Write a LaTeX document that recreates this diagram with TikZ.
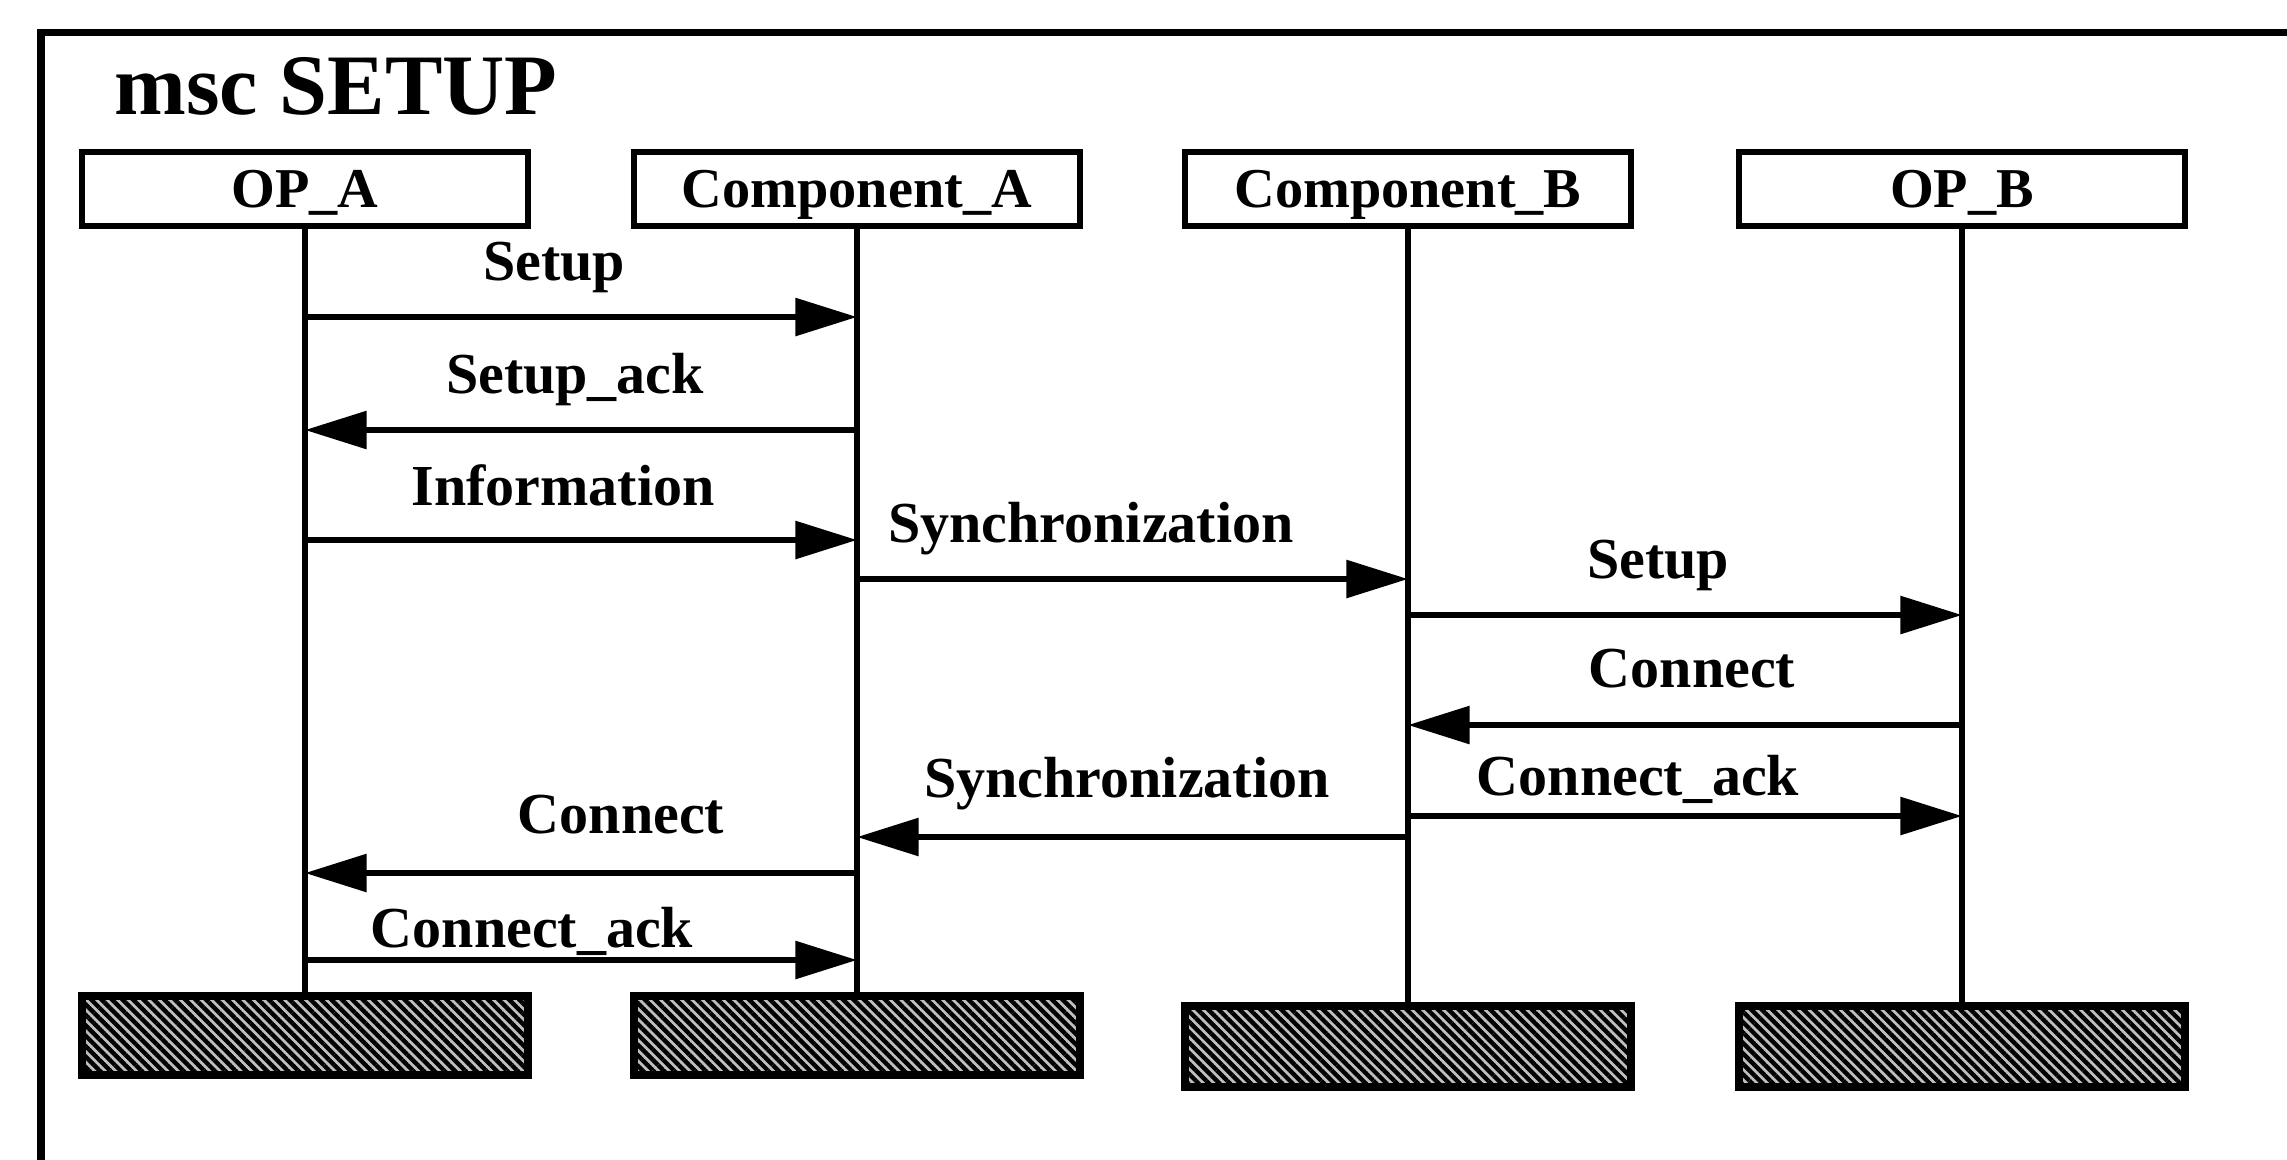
\documentclass[tikz,border=0pt]{standalone}
\usepackage{fontspec}
\setmainfont{Liberation Serif}
\usetikzlibrary{arrows.meta,patterns.meta}
\tikzdeclarepattern{
  name=mschatch,
  bounding box={(0pt,-0.7pt) and (2.1pt,0.7pt)},
  tile size={(2.1pt,2.1pt)},
  tile transformation={rotate=-45},
  code={\draw[line width=1.25pt] (0pt,0pt) -- (2.1pt,0pt);}
}
\begin{document}
\begin{tikzpicture}[x=0.01cm,y=-0.01cm,
  frameline/.style={line width=2pt},
  inst/.style={draw, line width=1.6pt, minimum width=4.46cm, minimum height=0.74cm,
    inner sep=0pt, text height=10.6pt, text depth=0pt,
    font=\fontsize{16}{19}\selectfont\bfseries},
  stopbox/.style={draw, line width=2.1pt, minimum width=4.46cm, inner sep=0pt,
    preaction={fill=gray!50}, pattern=mschatch},
  life/.style={line width=1.6pt},
  msg/.style={line width=1.7pt, -{Triangle[length=17.5pt,width=10.5pt]}},
  lbl/.style={font=\fontsize{16.5}{19}\selectfont\bfseries, inner sep=0pt, anchor=base},
  titlestyle/.style={font=\fontsize{24.5}{29}\selectfont\bfseries, inner sep=0pt, anchor=base west}
]
\useasboundingbox (0,0) rectangle (2287,1159);
\clip (0,0) rectangle (2287,1159);

% frame
\draw[frameline] (41,1175) -- (41,32) -- (2300,32);
\node[titlestyle] (title) at (114,114) {msc SETUP};

% instances
\node[inst] (opa) at (305,189) {OP\_A};
\node[inst] (cpa) at (857,189) {Component\_A};
\node[inst] (cpb) at (1408,189) {Component\_B};
\node[inst] (opb) at (1962,189) {OP\_B};

% instance ends
\node[stopbox, minimum height=0.79cm] (opaend) at (305,1035.5) {};
\node[stopbox, minimum height=0.79cm] (cpaend) at (857,1035.5) {};
\node[stopbox, minimum height=0.81cm] (cpbend) at (1408,1046.5) {};
\node[stopbox, minimum height=0.81cm] (opbend) at (1962,1046.5) {};

% lifelines
\draw[life] (opa.south) -- (opaend.north);
\draw[life] (cpa.south) -- (cpaend.north);
\draw[life] (cpb.south) -- (cpbend.north);
\draw[life] (opb.south) -- (opbend.north);

% message end points on lifelines
\coordinate (a1) at (305,317);  \coordinate (b1) at (857,317);
\coordinate (a2) at (857,430);  \coordinate (b2) at (305,430);
\coordinate (a3) at (305,540);  \coordinate (b3) at (857,540);
\coordinate (a4) at (857,579);  \coordinate (b4) at (1408,579);
\coordinate (a5) at (1408,615); \coordinate (b5) at (1962,615);
\coordinate (a6) at (1962,725); \coordinate (b6) at (1408,725);
\coordinate (a7) at (1408,816); \coordinate (b7) at (1962,816);
\coordinate (a8) at (1408,837); \coordinate (b8) at (857,837);
\coordinate (a9) at (857,873);  \coordinate (b9) at (305,873);
\coordinate (a10) at (305,960); \coordinate (b10) at (857,960);

% messages
\draw[msg] (a1) -- (b1);
\draw[msg] (a2) -- (b2);
\draw[msg] (a3) -- (b3);
\draw[msg] (a4) -- (b4);
\draw[msg] (a5) -- (b5);
\draw[msg] (a6) -- (b6);
\draw[msg] (a7) -- (b7);
\draw[msg] (a8) -- (b8);
\draw[msg] (a9) -- (b9);
\draw[msg] (a10) -- (b10);

% labels
\node[lbl] (l1) at (554,280) {Setup};
\node[lbl] (l2) at (575,393) {Setup\_ack};
\node[lbl] (l3) at (563,505) {Information};
\node[lbl] (l4) at (1091,542) {Synchronization};
\node[lbl] (l5) at (1658,578) {Setup};
\node[lbl] (l6) at (1692,687) {Connect};
\node[lbl] (l7) at (1638,795) {Connect\_ack};
\node[lbl] (l8) at (1127,797) {Synchronization};
\node[lbl] (l9) at (621,833) {Connect};
\node[lbl] (l10) at (532,947) {Connect\_ack};
\end{tikzpicture}
\end{document}
